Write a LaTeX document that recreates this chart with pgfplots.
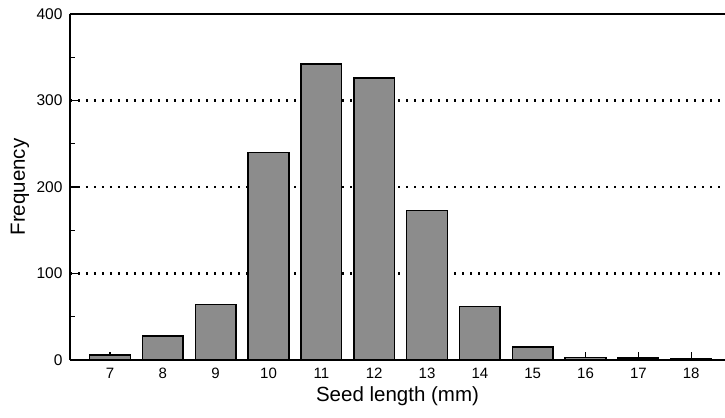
\documentclass[border=0pt]{standalone}
\usepackage{pgfplots}
\pgfplotsset{compat=1.18}
\usepackage{fontspec}
\setmainfont{Liberation Sans}
\begin{document}
\begin{tikzpicture}
\useasboundingbox (-70bp,-58bp) rectangle (655bp,360bp);
\begin{axis}[
  at={(0,0)}, anchor=south west,
  scale only axis,
  width=655bp, height=346bp,
  xmin=6.243, xmax=18.64,
  ymin=0, ymax=400,
  axis x line=box, axis y line=left,
  axis line style={line width=1.3bp, -},
  xtick={7,...,18},
  xtick pos=lower,
  ytick={0,100,200,300,400},
  minor ytick={50,150,250,350},
  tick align=inside,
  major tick length=8bp,
  minor tick length=5.5bp,
  tick style={line width=1.3bp, black},
  ymajorgrids,
  grid style={black, line width=2.2bp, dash pattern=on 2.2bp off 5.8bp, line cap=butt},
  /pgf/number format/assume math mode=true,
  xticklabel style={font=\fontsize{15bp}{17bp}\selectfont, yshift=-4.5bp},
  yticklabel style={font=\fontsize{15.5bp}{17bp}\selectfont, xshift=-4bp},
  xlabel={Seed length (mm)},
  ylabel={Frequency},
  label style={font=\fontsize{20.5bp}{23bp}\selectfont},
  xlabel style={at={(axis description cs:0.5,-0.1185)}, anchor=base},
  ylabel style={at={(axis description cs:-0.069,0.5)}, anchor=base},
  clip=false,
]
\addplot[ybar, bar width=0.77, fill=black!45, draw=black, line width=1.5bp]
  coordinates {(7,6) (8,28) (9,64) (10,240) (11,342) (12,326) (13,173) (14,62) (15,15) (16,3) (17,2.5) (18,1.5)};
\end{axis}
\end{tikzpicture}
\end{document}
